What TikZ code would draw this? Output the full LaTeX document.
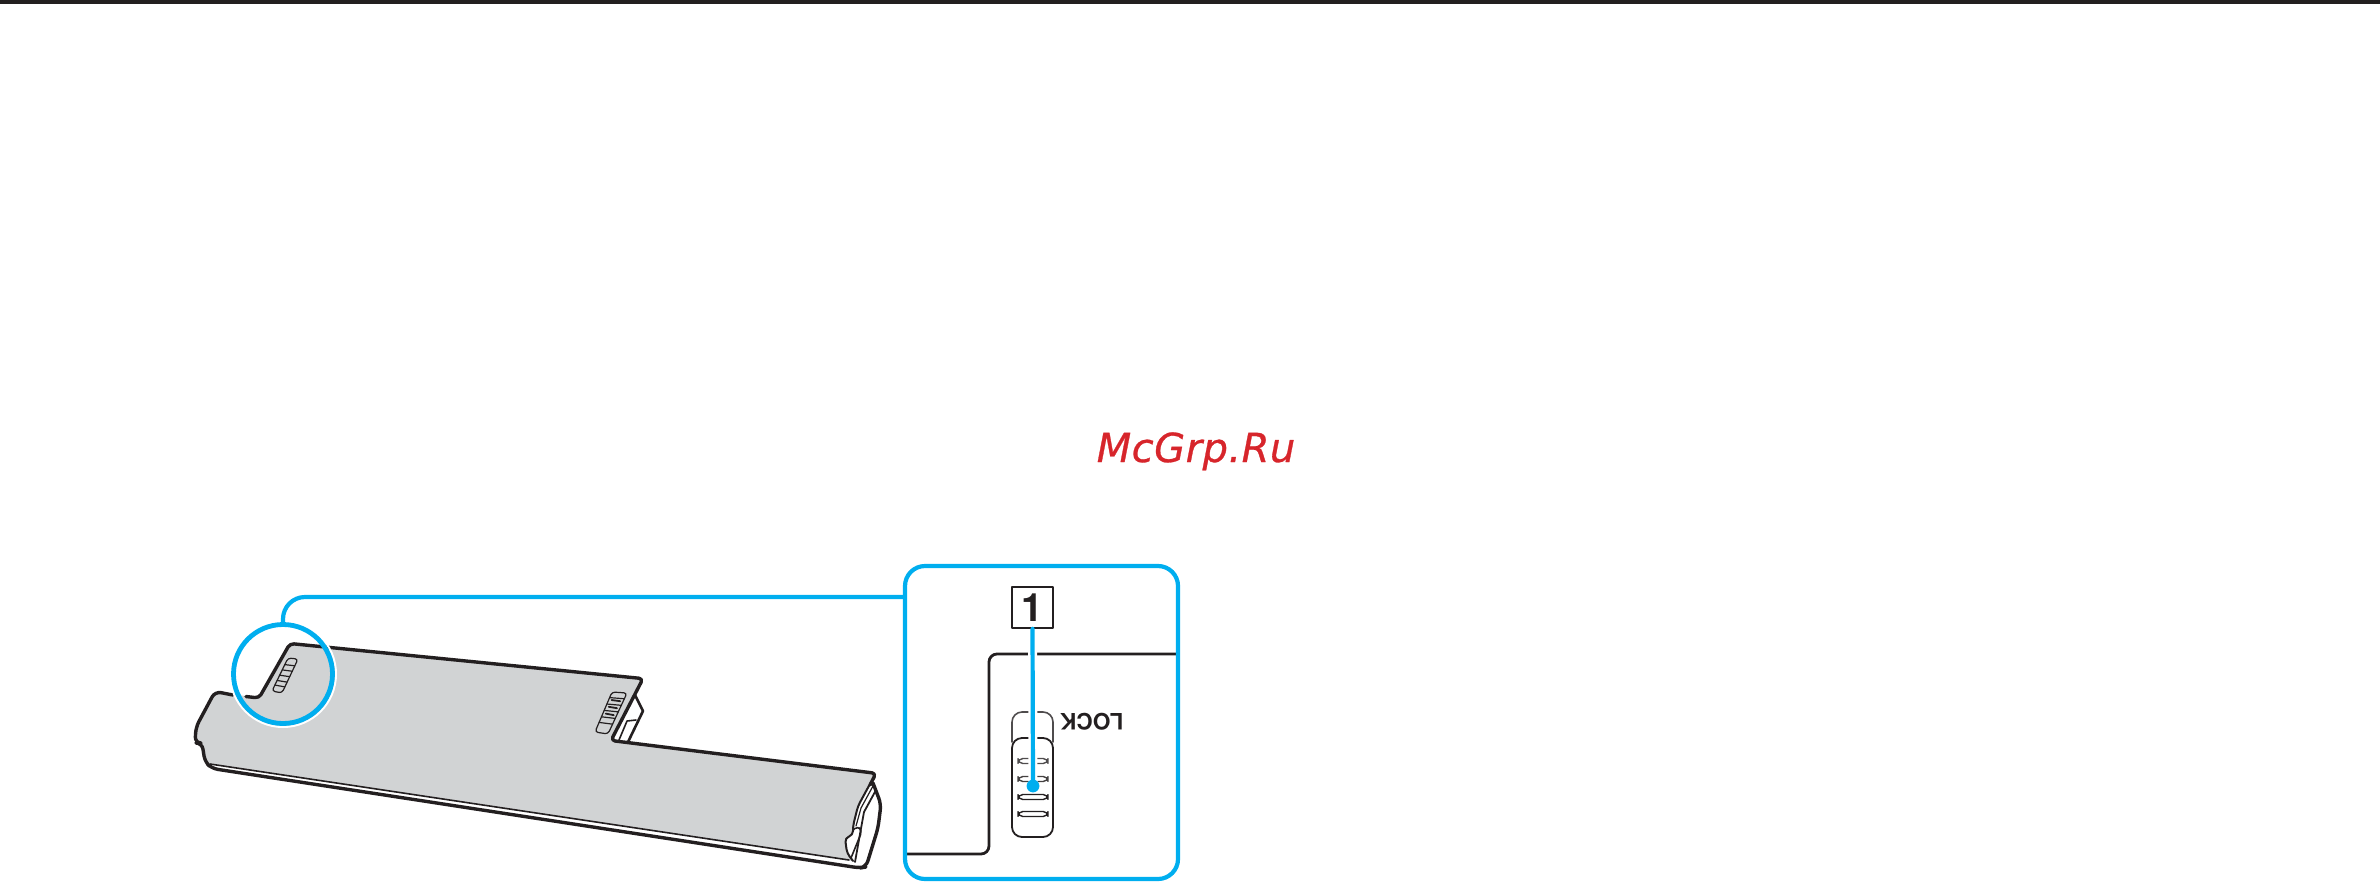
\documentclass[tikz,border=0pt]{standalone}
\usepackage{fontspec}
\usetikzlibrary{calc}
\setsansfont{TeX Gyre Heros}
\newfontfamily\markfont[ItalicFeatures={FakeBold=.7},LetterSpace=1.2]{DejaVu Sans}
\definecolor{callout}{HTML}{00AEEF}
\definecolor{battery}{HTML}{D1D3D4}
\definecolor{inkblack}{HTML}{231F20}
\definecolor{stamp}{HTML}{D7252B}
\tikzset{
	outline/.style={draw=inkblack,line width=1.7pt},
	thinline/.style={draw=inkblack,line width=.6pt},
	calloutline/.style={draw=callout,line width=2.1pt},
	halo/.style={draw=white,line width=4.5pt},
}
\begin{document}
\begin{tikzpicture}
	[x=.5pt,y=-.5pt,line join=round,line cap=round]
	\useasboundingbox (0,0) rectangle (2380,894);
	\fill[inkblack] (0,0) rectangle (2380,4);
	\node[text=stamp,font=\markfont\itshape\fontsize{20}{20}\selectfont,anchor=base] (stamp) at (1196,462) {McGrp.Ru};
	% battery body
	\fill[battery,rounded corners=2pt] (215,691.5)--(259,698)--(290,643.5)--(643,678.6)--(611,740.5)--(876,773.3)--(856,812)--(853,835)--(845,838)--(847,853)--(855,862)
		--(849,860)--(210,764)--(205,762)--(202,743)--(195,743)--(196,727)--cycle;
	\draw[outline,rounded corners=2pt] (246,696.5)--(259,698)--(290,643.5)--(643,678.6)--(611,740.5)--(876,773.3)--(870,785);
	\draw[outline,rounded corners=3pt] (233,695)--(215,691.5)--(196,727)--(195,743)--(202,743)--(205,762)--(212,768.5)--(860,868)--(866,867)--(878,828)--(881,804)--(873,783);
	\draw[inkblack,line width=.8pt] (210,764)--(849,860);
	% notch on the right side
	\draw[outline,line width=1.3pt] (635,695)--(643,711)--(628,742);
	\draw[thinline,line width=.8pt] (619,740)--(627,721)--(636,720);
	% battery end
	\draw[inkblack,line width=1pt,rounded corners=2pt] (871,782)--(858,806)--(853,826)--(853,835)--(845,838)--(847,853)--(853,861);
	\draw[thinline] (873,786)--(861,808)--(856,826);
	\draw[inkblack,line width=.9pt] (876,790)--(864,812)--(860,834)--(855,862);
	\draw[thinline,line width=.8pt,rounded corners=2pt] (853,830)--(858,826)--(862,831)--(851,858);
	% grips
	\draw[thinline,rounded corners=1.5pt] (288,658)--(298,659)--(282,693)--(272,691)--cycle;
	\foreach \t in {.2,.36,.52,.68,.82}
		\draw[thinline] ($(288,658)!\t!(272,691)$)--($(298,659)!\t!(282,693)$);
	\draw[thinline,rounded corners=1.5pt] (612,692)--(627,693)--(608,734)--(595,732)--cycle;
	\foreach \t in {.14,.3,.46,.62,.76}
		\draw[thinline] ($(612,692)!\t!(595,732)$)--($(627,693)!\t!(608,734)$);
	\foreach \t in {.2,.37,.54}
		\draw[inkblack,line width=.9pt] ($(612,692)!\t!(595,732)+(3,0)$)--($(627,693)!\t!(608,734)+(-3,0)$);
	% inside the panel
	\draw[outline,line width=1.4pt,rounded corners=4pt] (1177,654)--(989,654)--(989,854)--(906,854);
	\draw[thinline,line width=.8pt,draw=inkblack!80,rounded corners=5pt] (1012,742)--(1012,712)--(1053,712)--(1053,742);
	\draw[thinline,line width=.9pt,rounded corners=5pt] (1012,738)--(1053,738)--(1053,837)--(1012,837)--cycle;
	\foreach \y/\c in {761/inkblack!80,779/inkblack!85,797/inkblack,814/inkblack}
		\draw[draw=\c,line width=.7pt,rounded corners=2.4pt] (1018,\y-2.5) rectangle (1048,\y+2.5);
	\node[font=\sffamily\bfseries\fontsize{11.3}{11.3}\selectfont,text=inkblack,rotate=180,inner sep=0pt] (locktext) at (1092,722) {LOCK};
	% callout circle and panel
	\node[circle,draw=white,line width=1pt,minimum size=53pt,inner sep=0pt] at (283,674) {};
	\node[circle,calloutline,line width=2.4pt,minimum size=49.5pt,inner sep=0pt] (spotcircle) at (283,674) {};
	\node[rectangle,calloutline,rounded corners=10pt,minimum width=136.5pt,minimum height=156.5pt,inner sep=0pt] (panel) at (1041.5,722.5) {};
	\coordinate (panelport) at (panel.west |- 0,597);
	\draw[calloutline,rounded corners=11pt] (spotcircle.north)--(spotcircle.north |- panelport)--(panelport);
	\node[draw=inkblack,line width=.8pt,fill=white,minimum size=20.5pt,inner sep=0pt,font=\sffamily\bfseries\fontsize{19.5}{19.5}\selectfont,text=inkblack] (numberbox) at (1032.5,607.5) {1};
	\coordinate (lockdot) at (1033,786);
	\draw[halo,line cap=butt] ($(numberbox.south)+(0,1)$)--(lockdot);
	\draw[calloutline] (numberbox.south)--(lockdot);
	\node[circle,fill=callout,minimum size=6.4pt,inner sep=0pt] (lockmark) at (lockdot) {};
\end{tikzpicture}
\end{document}
